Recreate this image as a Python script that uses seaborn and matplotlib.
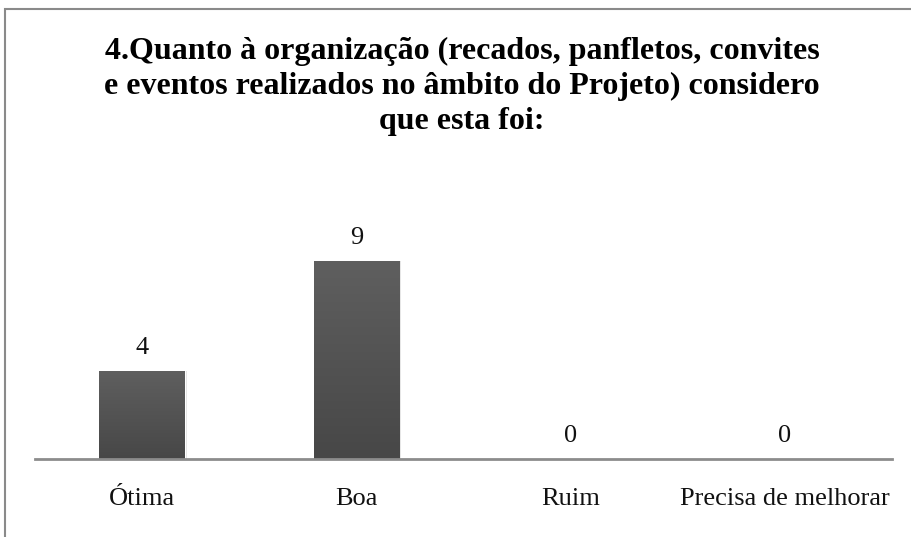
import numpy as np
import pandas as pd
import matplotlib
matplotlib.use("Agg")
import matplotlib.pyplot as plt
from matplotlib.patches import Rectangle
import seaborn as sns

categories = ["Ótima", "Boa", "Ruim", "Precisa de melhorar"]
values = [4, 9, 0, 0]
title = "4.Quanto à organização (recados, panfletos, convites\ne eventos realizados no âmbito do Projeto) considero\nque esta foi:"

sns.set_theme(style="white")
plt.rcParams['font.family'] = ['Liberation Serif', 'DejaVu Serif']

W, H = 911, 537
fig = plt.figure(figsize=(W / 100, H / 100), dpi=100)
fig.patch.set_facecolor("white")

# outer frame (top and left visible, extends past the right/bottom edges)
frame = Rectangle((5 / W, -0.05), 1.2, (H - 9) / H + 0.05, transform=fig.transFigure,
                  fill=False, edgecolor="#8a8a8a", linewidth=1.5, zorder=0)
fig.add_artist(frame)

ax_left, ax_right = 35, 892
ax_bottom, ax_top = 459, 195
ax = fig.add_axes([ax_left / W, (H - ax_bottom) / H, (ax_right - ax_left) / W, (ax_bottom - ax_top) / H])
ax.set_facecolor("none")

df = pd.DataFrame({"cat": categories, "val": values})
sns.barplot(data=df, x="cat", y="val", color="#525252", width=0.40, ax=ax, saturation=1)

ymax = (ax_bottom - ax_top) / 22.0

# gradient fill on bars
grad = np.linspace(0, 1, 256).reshape(-1, 1)
cmap = matplotlib.colors.LinearSegmentedColormap.from_list("g", ["#474747", "#5f5f5f"])
for p in list(ax.patches):
    x0, w, h = p.get_x(), p.get_width(), p.get_height()
    if h <= 0:
        continue
    sh = Rectangle((x0 + 0.01, 0), w, h, facecolor="#000000", alpha=0.12, edgecolor="none", zorder=1)
    ax.add_patch(sh)
    im = ax.imshow(grad, extent=[x0, x0 + w, 0, h], origin="lower", cmap=cmap, aspect="auto", zorder=2)
    im.set_clip_path(p)
    p.set_zorder(2)
ax.set_xlim(-0.5, len(categories) - 0.5)
ax.set_ylim(0, ymax)

for i, v in enumerate(values):
    ax.annotate(str(v), (i, v), xytext=(0, 9), textcoords="offset points",
                ha="center", va="bottom", fontsize=19, color="#111111")

for s in ["top", "right", "left"]:
    ax.spines[s].set_visible(False)
ax.spines["bottom"].set_color("#8c8c8c")
ax.spines["bottom"].set_linewidth(2)
ax.set_yticks([])
ax.set_xlabel("")
ax.set_ylabel("")
ax.tick_params(axis="x", length=0, pad=21, labelsize=19, colors="#111111")

fig.text(462 / W, 1 - 37 / H, title, ha="center", va="top", fontsize=23,
         fontweight="bold", linespacing=1.27, color="#000000")

fig.savefig("out.png", dpi=100)
